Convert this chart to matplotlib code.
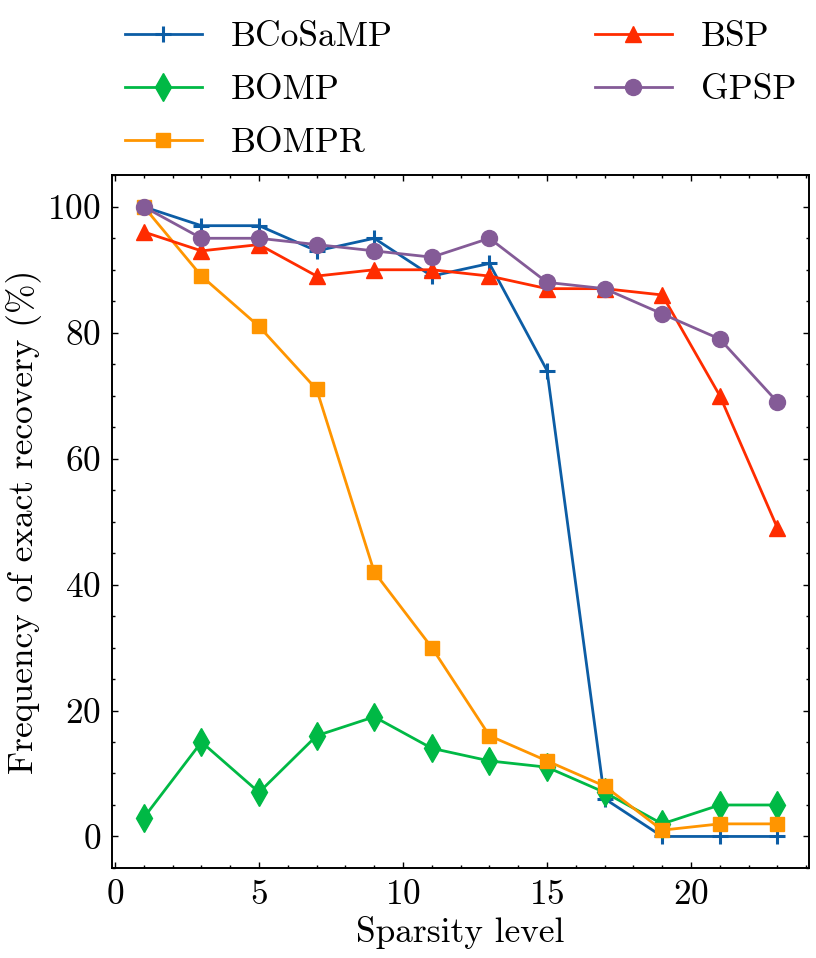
import matplotlib
matplotlib.use("Agg")
import matplotlib.pyplot as plt
from matplotlib.ticker import AutoMinorLocator, MultipleLocator

sparsity = [1, 3, 5, 7, 9, 11, 13, 15, 17, 19, 21, 23]
labels = ["BCoSaMP", "BOMP", "BOMPR", "BSP", "GPSP"]
bcosamp = [100, 97, 97, 93, 95, 89, 91, 74, 6, 0, 0, 0]
bomp = [3, 15, 7, 16, 19, 14, 12, 11, 7, 2, 5, 5]
bompr = [100, 89, 81, 71, 42, 30, 16, 12, 8, 1, 2, 2]
bsp = [96, 93, 94, 89, 90, 90, 89, 87, 87, 86, 70, 49]
gpsp = [100, 95, 95, 94, 93, 92, 95, 88, 87, 83, 79, 69]

series = [bcosamp, bomp, bompr, bsp, gpsp]
colors = ["#0C5DA5", "#00B945", "#FF9500", "#FF2C00", "#845B97"]
markers = ["+", "d", "s", "^", "o"]
msizes = [11, 14, 10.5, 11.5, 11.5]

plt.rcParams["font.family"] = ["cmr10", "DejaVu Serif"]
plt.rcParams["mathtext.fontset"] = "cm"
plt.rcParams["axes.formatter.use_mathtext"] = True
FS = 25.5
plt.rcParams["font.size"] = FS

fig = plt.figure(figsize=(8.16, 9.58), dpi=100)
ax = fig.add_axes([0.1375, 0.094, 0.854, 0.723])

for ys, lab, c, m, ms in zip(series, labels, colors, markers, msizes):
    ax.plot(sparsity, ys, color=c, marker=m, markersize=ms, lw=2.0,
            markeredgewidth=2.2 if m == "+" else 1, label=lab)

ax.set_ylim(-5, 105)
ax.xaxis.set_major_locator(MultipleLocator(5))
ax.yaxis.set_major_locator(MultipleLocator(20))
ax.xaxis.set_minor_locator(AutoMinorLocator(5))
ax.yaxis.set_minor_locator(AutoMinorLocator(4))
ax.tick_params(which="both", direction="in", top=True, right=True, width=1.0)
ax.tick_params(which="major", length=4.5, labelsize=FS, pad=8)
ax.tick_params(which="minor", length=2.5)
for s in ax.spines.values():
    s.set_linewidth(1.4)

ax.set_xlabel("Sparsity level", fontsize=FS, labelpad=4)
ax.set_ylabel("Frequency of exact recovery (%)", fontsize=FS, labelpad=4)

ax.legend(loc="lower center", bbox_to_anchor=(0.5, 1.0), ncol=2, frameon=False,
          fontsize=FS, handlelength=2.18, handletextpad=0.82, columnspacing=5.7,
          labelspacing=0.6, borderaxespad=0.05)

fig.savefig("out.png", dpi=100)
